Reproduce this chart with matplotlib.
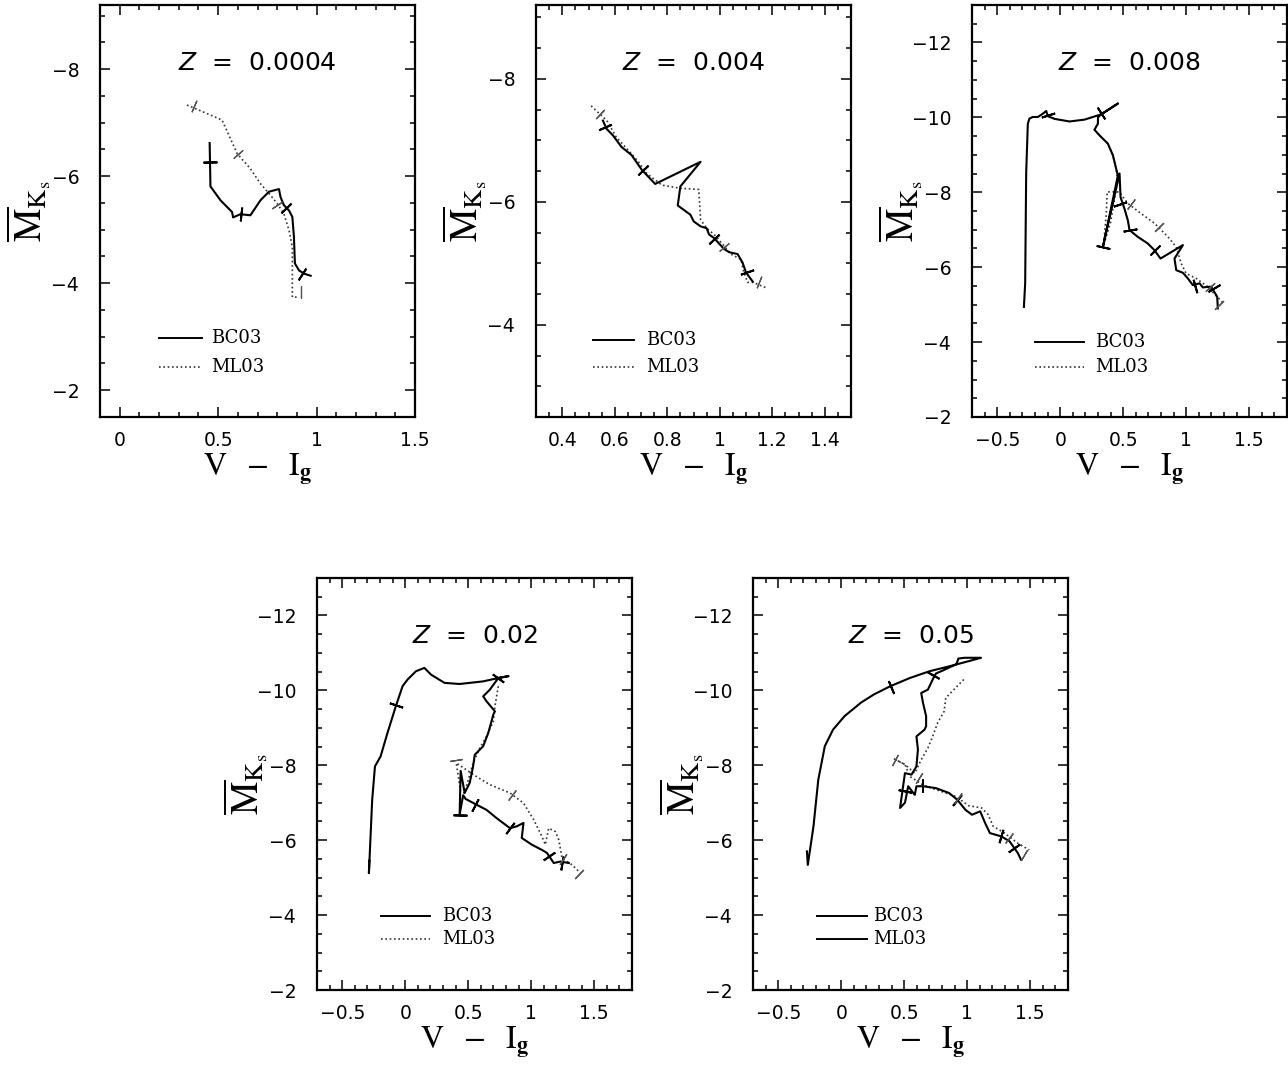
import matplotlib
matplotlib.use('Agg')
import matplotlib.pyplot as plt
from matplotlib.ticker import MultipleLocator, FuncFormatter
import numpy as np

# ---- data (V - I_g, fluctuation M_Ks) ----
titles = ['0.0004', '0.004', '0.008', '0.02', '0.05']

# Z = 0.0004
bc_x_1 = [0.457, 0.461, 0.512, 0.571, 0.576, 0.613, 0.664, 0.715, 0.758, 0.809, 0.817,
          0.834, 0.860, 0.877, 0.885, 0.890, 0.911, 0.936, 0.970]
bc_y_1 = [-6.62, -5.81, -5.55, -5.33, -5.23, -5.29, -5.27, -5.55, -5.71, -5.76, -5.61,
          -5.46, -5.36, -5.24, -4.87, -4.37, -4.24, -4.18, -4.14]
bc_mx_1 = [0.457, 0.617, 0.845, 0.925]
bc_my_1 = [-6.26, -5.29, -5.40, -4.17]
ml_x_1 = [0.342, 0.520, 0.597, 0.664, 0.715, 0.758, 0.800, 0.834, 0.860, 0.877, 0.877, 0.911]
ml_y_1 = [-7.33, -7.05, -6.42, -6.14, -5.86, -5.68, -5.49, -5.30, -4.99, -4.68, -3.74, -3.74]
ml_mx_1 = [0.375, 0.600, 0.800, 0.919]
ml_my_1 = [-7.31, -6.42, -5.46, -3.84]

# Z = 0.004
bc_x_2 = [0.555, 0.568, 0.593, 0.626, 0.664, 0.703, 0.754, 0.927, 0.850, 0.840, 0.888,
          0.901, 0.927, 0.950, 0.959, 0.978, 1.017, 1.036, 1.068, 1.087, 1.100, 1.126]
bc_y_2 = [-7.32, -7.19, -7.08, -6.89, -6.76, -6.52, -6.29, -6.65, -6.25, -5.94, -5.79,
          -5.68, -5.60, -5.57, -5.47, -5.41, -5.23, -5.18, -5.15, -5.01, -4.85, -4.70]
bc_mx_2 = [0.562, 0.706, 0.978, 1.104]
bc_my_2 = [-7.21, -6.52, -5.40, -4.86]
ml_x_2 = [0.510, 0.542, 0.570, 0.606, 0.645, 0.690, 0.722, 0.780, 0.850, 0.920, 0.927,
          0.950, 0.978, 1.017, 1.042, 1.081, 1.090, 1.106, 1.126, 1.183]
ml_y_2 = [-7.56, -7.43, -7.32, -7.05, -6.87, -6.65, -6.46, -6.27, -6.22, -6.20, -5.71,
          -5.57, -5.47, -5.28, -5.15, -5.06, -4.88, -4.69, -4.69, -4.59]
ml_mx_2 = [0.542, 1.017, 1.151]
ml_my_2 = [-7.43, -5.26, -4.69]

# Z = 0.008
bc_x_3 = [-0.288, -0.278, -0.270, -0.257, -0.244, -0.217, -0.177, -0.137, -0.111, -0.098,
          -0.045, 0.074, 0.193, 0.325, 0.458, 0.325, 0.300, 0.299, 0.272, 0.312, 0.378,
          0.418, 0.444, 0.458, 0.339, 0.471, 0.479, 0.510, 0.537, 0.550, 0.616, 0.696,
          0.749, 0.796, 0.974, 0.907, 0.921, 0.974, 1.013, 1.053, 1.106, 1.132, 1.198,
          1.246, 1.251]
bc_y_3 = [-4.94, -5.57, -8.51, -9.83, -9.97, -10.01, -10.01, -10.10, -10.17, -10.03,
          -9.96, -9.89, -9.94, -10.08, -10.37, -10.08, -10.00, -9.83, -9.67, -9.52, -9.30,
          -8.99, -8.63, -8.45, -6.54, -8.50, -7.87, -7.56, -7.25, -6.99, -6.81, -6.63,
          -6.45, -6.23, -6.59, -6.23, -5.92, -5.85, -5.70, -5.52, -5.57, -5.46, -5.48,
          -5.21, -4.90]
bc_mx_3 = [-0.100, 0.325, 0.340, 0.475, 0.550, 0.749, 1.070, 1.220]
bc_my_3 = [-10.05, -10.12, -6.54, -7.68, -6.99, -6.45, -5.50, -5.44]
ml_x_3 = [0.300, 0.299, 0.272, 0.312, 0.378, 0.418, 0.444, 0.455, 0.400, 0.345, 0.365,
          0.373, 0.468, 0.537, 0.643, 0.749, 0.855, 0.921, 0.960, 1.000, 1.079, 1.171,
          1.220, 1.287]
ml_y_3 = [-10.00, -9.83, -9.67, -9.52, -9.30, -8.99, -8.63, -8.30, -7.20, -6.60, -7.40,
          -8.01, -8.01, -7.70, -7.43, -7.17, -6.81, -6.54, -6.10, -5.83, -5.70, -5.48,
          -5.30, -5.07]
ml_mx_3 = [0.560, 0.788, 1.190, 1.260]
ml_my_3 = [-7.68, -7.07, -5.47, -5.00]

# Z = 0.02
bc_x_4 = [-0.285, -0.288, -0.262, -0.240, -0.195, -0.141, -0.075, -0.021, 0.019, 0.085,
          0.152, 0.205, 0.312, 0.432, 0.619, 0.739, 0.819, 0.739, 0.672, 0.619, 0.645,
          0.712, 0.700, 0.659, 0.619, 0.552, 0.539, 0.512, 0.472, 0.440, 0.432, 0.460,
          0.480, 0.565, 0.645, 0.725, 0.832, 0.885, 0.939, 0.925, 1.005, 1.085, 1.125,
          1.179, 1.232, 1.299]
bc_y_4 = [-5.45, -5.12, -7.08, -7.97, -8.24, -8.86, -9.57, -10.11, -10.29, -10.51,
          -10.60, -10.42, -10.20, -10.17, -10.24, -10.33, -10.38, -10.33, -10.02, -9.84,
          -9.71, -9.44, -9.36, -8.86, -8.51, -8.28, -7.97, -7.53, -7.26, -7.85, -6.68,
          -7.20, -7.10, -6.95, -6.81, -6.59, -6.32, -6.37, -6.46, -6.06, -5.88, -5.74,
          -5.66, -5.39, -5.43, -5.39]
bc_mx_4 = [-0.075, 0.739, 0.432, 0.555, 0.832, 1.140, 1.245]
bc_my_4 = [-9.60, -10.32, -6.68, -6.95, -6.32, -5.58, -5.39]
ml_x_4 = [0.739, 0.712, 0.699, 0.645, 0.592, 0.539, 0.500, 0.470, 0.440, 0.405, 0.565,
          0.672, 0.832, 0.939, 1.019, 1.085, 1.112, 1.139, 1.192, 1.219, 1.245, 1.325,
          1.392]
ml_y_4 = [-10.11, -9.57, -9.17, -8.77, -8.46, -8.06, -7.60, -7.26, -7.30, -8.06, -7.70,
          -7.48, -7.26, -6.99, -6.55, -6.10, -5.88, -6.32, -6.23, -6.01, -5.52, -5.34,
          -5.12]
ml_mx_4 = [0.405, 0.850, 1.250, 1.380]
ml_my_4 = [-8.15, -7.20, -5.50, -5.10]

# Z = 0.05
bc_x_5 = [-0.272, -0.265, -0.220, -0.182, -0.130, -0.065, 0.026, 0.156, 0.259, 0.389,
          0.545, 0.700, 0.856, 1.012, 1.110, 0.980, 0.930, 0.915, 0.800, 0.752, 0.732,
          0.688, 0.635, 0.649, 0.674, 0.674, 0.661, 0.597, 0.609, 0.597, 0.558, 0.506,
          0.467, 0.506, 0.532, 0.584, 0.597, 0.649, 0.752, 0.856, 0.921, 0.986, 1.038,
          1.103, 1.142, 1.180, 1.271, 1.336, 1.401, 1.427]
bc_y_5 = [-5.70, -5.34, -6.37, -7.61, -8.51, -8.95, -9.31, -9.67, -9.89, -10.11,
          -10.33, -10.51, -10.64, -10.78, -10.87, -10.87, -10.85, -10.70, -10.52, -10.45,
          -10.33, -10.02, -9.93, -9.67, -9.31, -9.04, -8.95, -8.77, -8.42, -7.97, -7.75,
          -7.79, -6.86, -7.00, -7.44, -7.21, -7.44, -7.44, -7.39, -7.26, -7.08, -6.81,
          -6.68, -6.77, -6.46, -6.19, -6.10, -5.97, -5.66, -5.48]
bc_mx_5 = [0.395, 0.730, 0.510, 0.649, 0.921, 1.271, 1.370]
bc_my_5 = [-10.10, -10.40, -7.30, -7.44, -7.08, -6.10, -5.80]
ml_x_5 = [0.973, 0.830, 0.817, 0.765, 0.726, 0.688, 0.635, 0.584, 0.506, 0.415, 0.506,
          0.545, 0.649, 0.752, 0.908, 1.012, 1.115, 1.167, 1.206, 1.297, 1.401, 1.492]
ml_y_5 = [-10.29, -9.80, -9.44, -9.13, -8.77, -8.46, -8.15, -7.79, -8.02, -8.18, -8.02,
          -7.70, -7.48, -7.35, -7.17, -6.92, -6.86, -6.68, -6.37, -6.19, -5.92, -5.74]
ml_mx_5 = [0.430, 0.620, 0.930, 1.330, 1.450]
ml_my_5 = [-8.15, -7.65, -7.12, -6.05, -5.60]

bc_curves = [(bc_x_1, bc_y_1), (bc_x_2, bc_y_2), (bc_x_3, bc_y_3), (bc_x_4, bc_y_4), (bc_x_5, bc_y_5)]
bc_marks = [(bc_mx_1, bc_my_1), (bc_mx_2, bc_my_2), (bc_mx_3, bc_my_3), (bc_mx_4, bc_my_4), (bc_mx_5, bc_my_5)]
ml_curves = [(ml_x_1, ml_y_1), (ml_x_2, ml_y_2), (ml_x_3, ml_y_3), (ml_x_4, ml_y_4), (ml_x_5, ml_y_5)]
ml_marks = [(ml_mx_1, ml_my_1), (ml_mx_2, ml_my_2), (ml_mx_3, ml_my_3), (ml_mx_4, ml_my_4), (ml_mx_5, ml_my_5)]

# ---- layout ----
W, H = 1288, 1069
panel_px = [(100, 5), (536, 5), (972, 5), (317, 578), (753, 578)]  # left, top in pixels
ax_w, ax_h = 315, 412
xlims = [(-0.1, 1.5), (0.3, 1.5), (-0.7, 1.8), (-0.7, 1.8), (-0.7, 1.8)]
ylims = [(-1.5, -9.2), (-2.5, -9.2), (-2, -13), (-2, -13), (-2, -13)]
xmajor = [0.5, 0.2, 0.5, 0.5, 0.5]
xminor = [0.1, 0.05, 0.1, 0.1, 0.1]
leg_pos = [(0.188, 0.325, 0.353, 0.192, 0.121),
           (0.181, 0.311, 0.349, 0.187, 0.121),
           (0.200, 0.356, 0.390, 0.182, 0.121),
           (0.203, 0.360, 0.397, 0.180, 0.124),
           (0.203, 0.362, 0.380, 0.180, 0.124)]

plt.rcParams['mathtext.fontset'] = 'stix'
plt.rcParams['font.family'] = 'DejaVu Sans'


def fmt(v, pos):
    v = round(v, 6)
    if abs(v) < 1e-9:
        v = 0
    return ('%g' % v).replace('-', '\u2212')


def mark_angles(ax, xs, ys, mx, my):
    """angle of the curve (display space) at each mark position"""
    pts = ax.transData.transform(np.column_stack([xs, ys]))
    mpts = ax.transData.transform(np.column_stack([mx, my]))
    out = []
    for p in mpts:
        best = None
        for a, b in zip(pts[:-1], pts[1:]):
            d = b - a
            L = np.dot(d, d)
            if L == 0:
                continue
            t = np.clip(np.dot(p - a, d) / L, 0, 1)
            dist = np.hypot(*(a + t * d - p))
            if best is None or dist < best[0]:
                best = (dist, np.degrees(np.arctan2(d[1], d[0])))
        out.append(best[1])
    return out


fig = plt.figure(figsize=(W / 100, H / 100), dpi=100)

for i in range(5):
    left, top = panel_px[i]
    ax = fig.add_axes([left / W, 1 - (top + ax_h) / H, ax_w / W, ax_h / H])
    ax.set_xlim(*xlims[i])
    ax.set_ylim(*ylims[i])

    ax.xaxis.set_major_locator(MultipleLocator(xmajor[i]))
    ax.xaxis.set_minor_locator(MultipleLocator(xminor[i]))
    ax.yaxis.set_major_locator(MultipleLocator(2))
    ax.yaxis.set_minor_locator(MultipleLocator(0.5))
    ax.xaxis.set_major_formatter(FuncFormatter(fmt))
    ax.yaxis.set_major_formatter(FuncFormatter(fmt))
    ax.tick_params(which='both', direction='in', top=True, right=True, width=1.1)
    ax.tick_params(which='major', length=7)
    ax.tick_params(which='minor', length=3.5)
    ax.tick_params(axis='x', labelsize=13.5, pad=10)
    ax.tick_params(axis='y', labelsize=13.5, pad=15)
    for s in ax.spines.values():
        s.set_linewidth(1.6)

    bx, by = bc_curves[i]
    mxs, mys = ml_curves[i]
    ax.plot(mxs, mys, color='#333333', lw=1.2, ls=(0, (1, 1.6)))
    ax.plot(bx, by, color='black', lw=1.5)

    # age marks: short bars across each track
    for (cx, cy), (px_, py_), col, ms, mew in [
            ((bx, by), bc_marks[i], 'black', 10, 1.4),
            ((mxs, mys), ml_marks[i], '#555555', 9, 0.9)]:
        angs = mark_angles(ax, cx, cy, px_, py_)
        for x0, y0, a in zip(px_, py_, angs):
            ax.plot([x0], [y0], ls='none', marker=(2, 2, a), ms=ms, mew=mew, mec=col)

    ax.text(0.5, 0.86, r'$Z$  =  ' + titles[i], transform=ax.transAxes,
            ha='center', va='center', fontsize=18, math_fontfamily='dejavusans')

    # legend drawn by hand
    x0, x1, xt, yb, ym = leg_pos[i]
    ax.plot([x0, x1], [yb, yb], transform=ax.transAxes, color='black', lw=1.4)
    if i == 4:
        ax.plot([x0, x1], [ym, ym], transform=ax.transAxes, color='black', lw=1.4)
    else:
        ax.plot([x0, x1], [ym, ym], transform=ax.transAxes, color='#333333', lw=1.2,
                ls=(0, (1, 1.6)))
    ax.text(xt, yb, 'BC03', transform=ax.transAxes, va='center', ha='left',
            fontsize=13, family='DejaVu Serif')
    ax.text(xt, ym, 'ML03', transform=ax.transAxes, va='center', ha='left',
            fontsize=13, family='DejaVu Serif')

    ax.set_xlabel(r'$\mathrm{V}\ \ -\ \ \mathrm{I}_{\mathbf{g}}$', fontsize=23)
    ax.xaxis.set_label_coords(0.5, -0.085)
    ax.set_ylabel(r'$\overline{\mathrm{M}}_{\mathrm{K_s}}$', fontsize=27)
    ax.yaxis.set_label_coords(-0.15, 0.5)

fig.savefig('out.png', dpi=100)
